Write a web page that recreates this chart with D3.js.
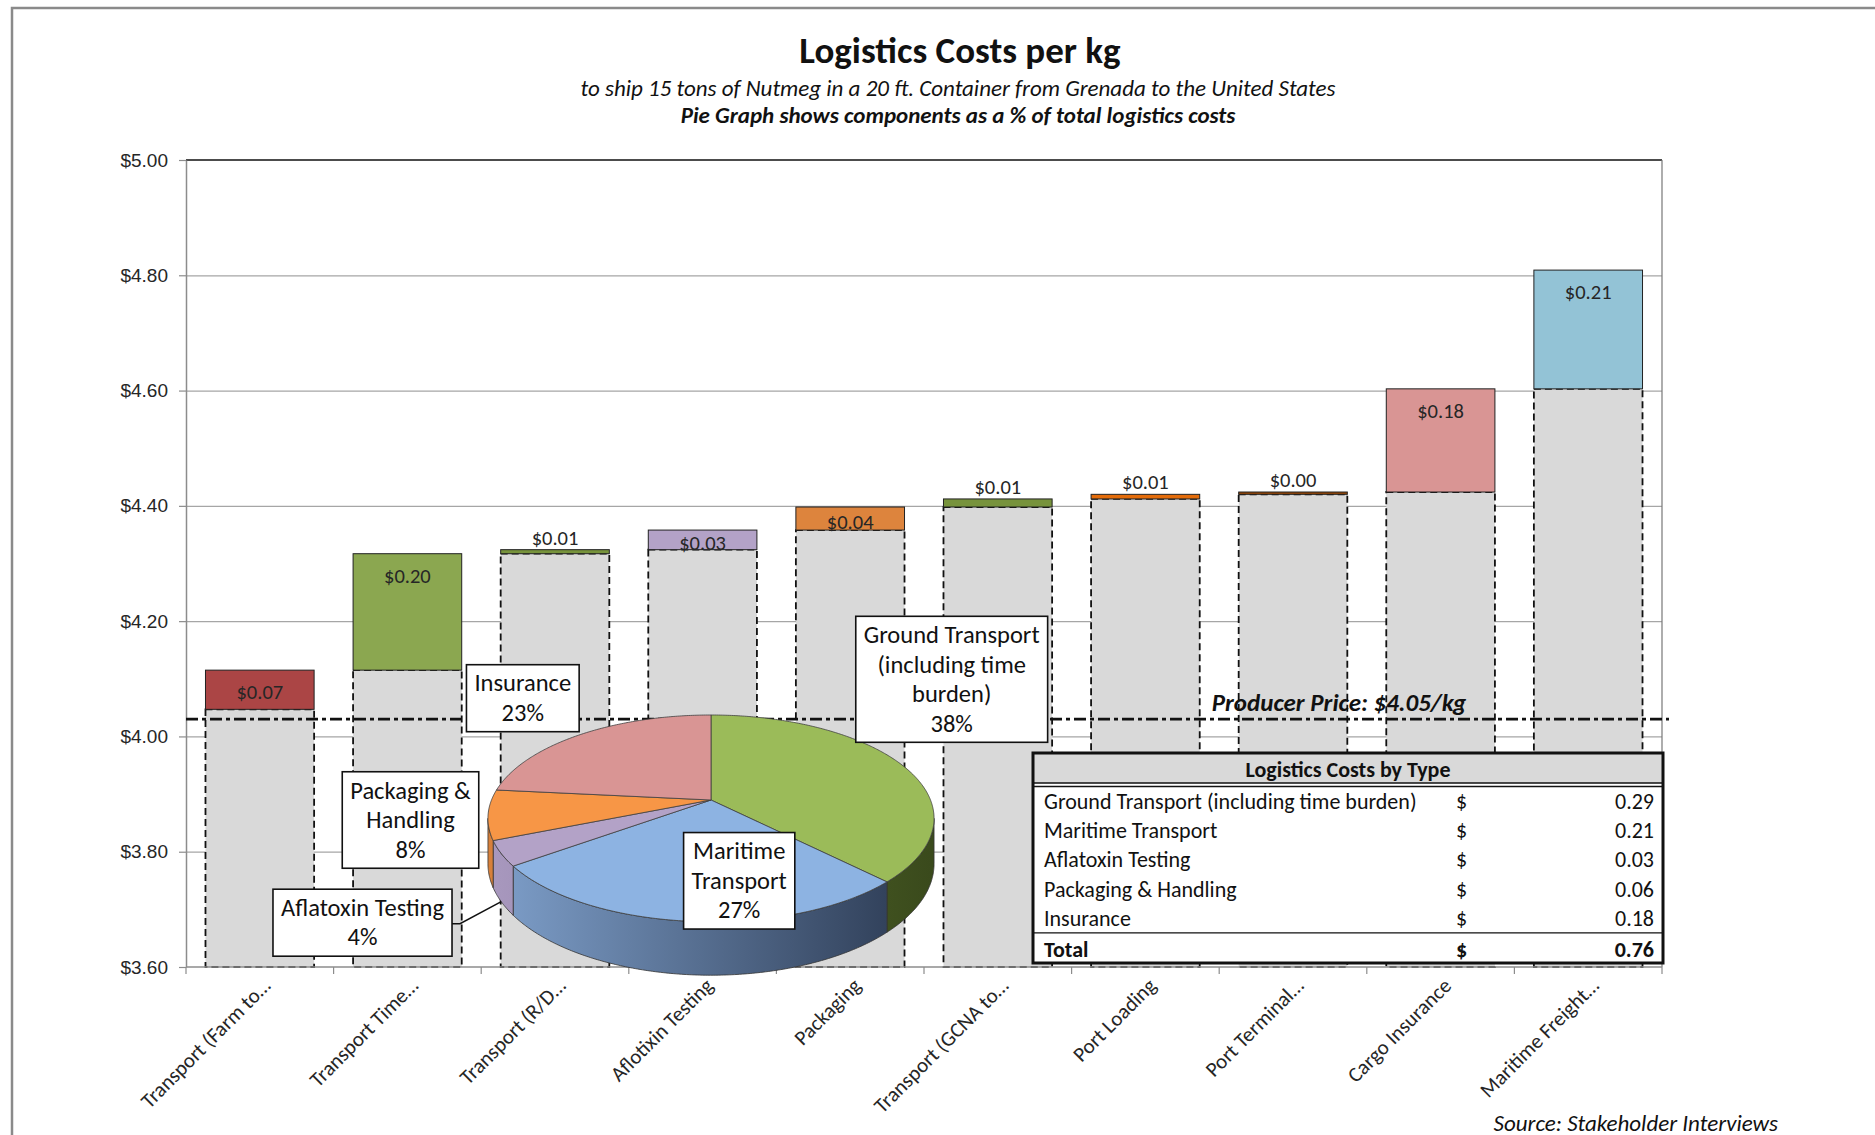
<!DOCTYPE html>
<html>
<head>
<meta charset="utf-8">
<script src="https://cdn.jsdelivr.net/npm/d3@7"></script>
<style>
  body { margin: 0; background: #fff; }
  svg { display: block; font-family: Carlito, Calibri, Lato, sans-serif; }
</style>
</head>
<body>
<div id="chart"></div>
<script>
// ---- waterfall data ----
const categories = ["Transport (Farm to…", "Transport Time…", "Transport (R/D…", "Aflotixin Testing", "Packaging",
  "Transport (GCNA to…", "Port Loading", "Port Terminal…", "Cargo Insurance", "Maritime Freight…"];
const startValue = 4.047;
const increments = [0.068, 0.202, 0.007, 0.034, 0.040, 0.014, 0.008, 0.004, 0.179, 0.206];
const stepColors = ["#AB4545", "#8BA750", "#77933C", "#B3A2C7", "#DD843D", "#77933C", "#E46C0A", "#984807", "#D99594", "#93C3D6"];
const yTicks = [3.6, 3.8, 4.0, 4.2, 4.4, 4.6, 4.8, 5.0];
const producerLine = 4.03;
const producerLabel = "Producer Price: $4.05/kg";

// ---- cost breakdown (pie + table) ----
const costTypes = ["Ground Transport (including time burden)", "Maritime Transport", "Aflatoxin Testing", "Packaging & Handling", "Insurance"];
const costValues = [0.29, 0.21, 0.03, 0.06, 0.18];
const costTotal = 0.76;
const pieNames = [["Ground Transport", "(including time", "burden)"], ["Maritime", "Transport"], ["Aflatoxin Testing"], ["Packaging &", "Handling"], ["Insurance"]];
const pieColors = ["#9BBB59", "#8DB3E2", "#B3A2C7", "#F79646", "#D99594"];
const pieSide = [["#6E8A38", "#3A4A1C"], ["#7E9FCA", "#2A3850"], ["#A898BE", "#6B5C80"], ["#D8803A", "#8A4A18"], ["#B07070", "#704040"]];

const title = "Logistics Costs per kg";
const subtitle1 = "to ship 15 tons of Nutmeg  in a 20 ft. Container  from Grenada to the United States";
const subtitle2 = "Pie Graph shows components as a % of total logistics costs";
const source = "Source: Stakeholder Interviews";

const W = 1875, H = 1135;
const plot = {left: 186, right: 1662, top: 160, bottom: 967};

const svg = d3.select("#chart").append("svg")
  .attr("width", W).attr("height", H);

// outer chart frame
svg.append("rect")
  .attr("x", 12).attr("y", 8).attr("width", W).attr("height", H)
  .attr("fill", "none").attr("stroke", "#8a8a8a").attr("stroke-width", 2.5);

const x = d3.scaleBand().domain(categories)
  .range([plot.left, plot.right]).paddingInner(0.264).paddingOuter(0.132);
const y = d3.scaleLinear().domain([3.6, 5.0]).range([plot.bottom, plot.top]);

// gridlines
svg.append("g")
  .attr("transform", `translate(${plot.left},0)`)
  .call(d3.axisLeft(y).tickValues(yTicks.slice(1, -1)).tickSize(-(plot.right - plot.left)).tickFormat(""))
  .call(g => g.select(".domain").remove())
  .call(g => g.selectAll("line").attr("stroke", "#a6a6a6").attr("stroke-width", 1.2));

// plot border (top black, right gray)
svg.append("line").attr("x1", plot.left).attr("x2", plot.right).attr("y1", plot.top).attr("y2", plot.top)
  .attr("stroke", "#111").attr("stroke-width", 1.5);
svg.append("line").attr("x1", plot.right).attr("x2", plot.right).attr("y1", plot.top).attr("y2", plot.bottom)
  .attr("stroke", "#777").attr("stroke-width", 1.2);

// waterfall values
const tops = Array.from(d3.cumsum(increments), c => startValue + c);
const bases = [startValue].concat(tops.slice(0, -1));
const bars = categories.map((c, i) => ({cat: c, base: bases[i], top: tops[i], inc: increments[i], color: stepColors[i]}));

// invisible base bars (gray with dashed outline)
svg.append("g").selectAll("rect").data(bars).join("rect")
  .attr("x", d => x(d.cat)).attr("width", x.bandwidth())
  .attr("y", d => y(d.base)).attr("height", d => y(3.6) - y(d.base))
  .attr("fill", "#d9d9d9").attr("stroke", "#111").attr("stroke-width", 1.8)
  .attr("stroke-dasharray", "7,4");

// increments
svg.append("g").selectAll("rect").data(bars).join("rect")
  .attr("x", d => x(d.cat)).attr("width", x.bandwidth())
  .attr("y", d => y(d.top)).attr("height", d => y(d.base) - y(d.top))
  .attr("fill", d => d.color).attr("stroke", "#222").attr("stroke-width", 1);

// value labels
const fmtMoney = d3.format("$.2f");
svg.append("g").selectAll("text").data(bars).join("text")
  .attr("x", d => x(d.cat) + x.bandwidth() / 2)
  .attr("y", d => {
    const h = y(d.base) - y(d.top);
    return d.inc < 0.02 ? y(d.top) - 12 : y(d.top) + Math.min(22, h / 2 + 3);
  })
  .attr("text-anchor", "middle").attr("dominant-baseline", "central")
  .attr("font-size", 20.5).attr("fill", "#262626")
  .text(d => fmtMoney(d.inc));

// left axis
svg.append("g")
  .attr("transform", `translate(${plot.left},0)`)
  .call(d3.axisLeft(y).tickValues(yTicks).tickFormat(fmtMoney).tickSize(7).tickSizeOuter(0).tickPadding(11))
  .call(g => g.select(".domain").attr("stroke", "#8c8c8c").attr("stroke-width", 1.5))
  .call(g => g.selectAll("line").attr("stroke", "#8c8c8c").attr("stroke-width", 1.2))
  .call(g => g.selectAll("text").attr("font-size", 19).attr("fill", "#262626").attr("font-family", null));

// bottom axis with ticks between categories
const step = x.step();
const gx = svg.append("g");
gx.append("line").attr("x1", plot.left).attr("x2", plot.right).attr("y1", plot.bottom).attr("y2", plot.bottom)
  .attr("stroke", "#8c8c8c").attr("stroke-width", 1.5);
gx.selectAll("line.tick").data(d3.range(categories.length + 1)).join("line")
  .attr("class", "tick")
  .attr("x1", i => plot.left + i * step).attr("x2", i => plot.left + i * step)
  .attr("y1", plot.bottom).attr("y2", plot.bottom + 7)
  .attr("stroke", "#8c8c8c").attr("stroke-width", 1.2);
gx.selectAll("text").data(categories).join("text")
  .attr("transform", d => `translate(${x(d) + x.bandwidth() / 2 + 12},${plot.bottom + 20}) rotate(-45)`)
  .attr("text-anchor", "end").attr("font-size", 21).attr("fill", "#262626")
  .text(d => d);

// producer price line
svg.append("line")
  .attr("x1", plot.left).attr("x2", plot.right + 7)
  .attr("y1", y(producerLine)).attr("y2", y(producerLine))
  .attr("stroke", "#111").attr("stroke-width", 2.6).attr("stroke-dasharray", "12,4,4,4");
svg.append("text")
  .attr("x", 1339).attr("y", y(producerLine) - 8)
  .attr("text-anchor", "middle").attr("font-size", 25).attr("font-weight", "bold").attr("font-style", "italic")
  .attr("fill", "#111")
  .text(producerLabel);

// ---- perspective 3D pie ----
const pc = {cx: 711, cy: 800, R: 219.5, a: 100.1, k: 0.1776, D: 44};
function proj(t, drop) {
  const X = Math.sin(t), Y = -Math.cos(t);
  const s = 1 / (1 - pc.k * Y);
  return [pc.cx + pc.R * X * s, pc.cy + pc.a * Y * s + (drop ? pc.D * s : 0)];
}
function arcPts(a0, a1, drop) {
  const n = Math.max(2, Math.ceil((a1 - a0) / 0.01));
  return d3.range(n + 1).map(i => proj(a0 + (a1 - a0) * i / n, drop));
}
const arcs = d3.pie().sort(null).startAngle(0).endAngle(2 * Math.PI)(costValues);
const tR = Math.acos(-pc.k), tL = 2 * Math.PI - tR;

const defs = svg.append("defs");
pieSide.forEach((c, i) => {
  const lg = defs.append("linearGradient").attr("id", "side" + i)
    .attr("gradientUnits", "userSpaceOnUse")
    .attr("x1", pc.cx - pc.R).attr("x2", pc.cx + pc.R).attr("y1", 0).attr("y2", 0);
  lg.append("stop").attr("offset", "0%").attr("stop-color", c[0]);
  lg.append("stop").attr("offset", "100%").attr("stop-color", c[1]);
});

const pieG = svg.append("g");
const line = d3.line();
arcs.forEach((d, i) => {
  const a0 = Math.max(d.startAngle, tR), a1 = Math.min(d.endAngle, tL);
  if (a1 <= a0) return;
  const topPts = arcPts(a0, a1, false);
  const botPts = arcPts(a0, a1, true).reverse();
  pieG.append("path")
    .attr("d", line(topPts.concat(botPts)) + "Z")
    .attr("fill", `url(#side${i})`).attr("stroke", "#333").attr("stroke-width", 0.8);
});
arcs.forEach((d, i) => {
  const pts = [[pc.cx, pc.cy]].concat(arcPts(d.startAngle, d.endAngle, false));
  pieG.append("path")
    .attr("d", line(pts) + "Z")
    .attr("fill", pieColors[i]).attr("stroke", "#404040").attr("stroke-width", 0.8);
});

// ---- table ----
const tb = {x0: 1033, x1: 1663, y0: 753, head: 30, row: 29.4};
const rows = costTypes.map((t, i) => ({label: t, value: costValues[i], bold: false}))
  .concat([{label: "Total", value: costTotal, bold: true}]);
const rowY = i => tb.y0 + tb.head + 18 + i * tb.row + (i === rows.length - 1 ? 1 : 0);
const tbBottom = rowY(rows.length - 1) + 14;
const tg = svg.append("g");
tg.append("rect").attr("x", tb.x0).attr("y", tb.y0).attr("width", tb.x1 - tb.x0).attr("height", tbBottom - tb.y0)
  .attr("fill", "#fff");
tg.append("rect").attr("x", tb.x0).attr("y", tb.y0).attr("width", tb.x1 - tb.x0).attr("height", tb.head)
  .attr("fill", "#d9d9d9");
tg.append("text").attr("x", (tb.x0 + tb.x1) / 2).attr("y", tb.y0 + tb.head / 2 + 1)
  .attr("text-anchor", "middle").attr("dominant-baseline", "central")
  .attr("font-size", 22).attr("font-weight", "bold").attr("fill", "#111")
  .text("Logistics Costs by Type");
[tb.y0 + tb.head, tb.y0 + tb.head + 3.5].forEach(yy => tg.append("line")
  .attr("x1", tb.x0).attr("x2", tb.x1).attr("y1", yy).attr("y2", yy).attr("stroke", "#111").attr("stroke-width", 1.3));
const fmt2 = d3.format(".2f");
rows.forEach((r, i) => {
  const yy = rowY(i);
  const fw = r.bold ? "bold" : "normal";
  tg.append("text").attr("x", tb.x0 + 11).attr("y", yy).attr("dominant-baseline", "central")
    .attr("font-size", 22).attr("font-weight", fw).attr("fill", "#111").text(r.label);
  tg.append("text").attr("x", 1456).attr("y", yy).attr("dominant-baseline", "central")
    .attr("font-size", 22).attr("font-weight", fw).attr("fill", "#111").text("$");
  tg.append("text").attr("x", tb.x1 - 9).attr("y", yy).attr("text-anchor", "end").attr("dominant-baseline", "central")
    .attr("font-size", 22).attr("font-weight", fw).attr("fill", "#111").text(fmt2(r.value));
});
const sepY = (rowY(rows.length - 2) + rowY(rows.length - 1)) / 2 - 1;
tg.append("line").attr("x1", tb.x0).attr("x2", tb.x1).attr("y1", sepY).attr("y2", sepY)
  .attr("stroke", "#111").attr("stroke-width", 1.3);
tg.append("rect").attr("x", tb.x0).attr("y", tb.y0).attr("width", tb.x1 - tb.x0).attr("height", tbBottom - tb.y0)
  .attr("fill", "none").attr("stroke", "#111").attr("stroke-width", 3);

// ---- pie callouts ----
const fmtPct = d3.format(".0%");
const pieTotal = d3.sum(costValues);
const calloutCenters = [[951.7, 679.3], [739.2, 880.8], [362.5, 922.7], [410.5, 820], [522.8, 698.2]];
const lineH = 29.5, padX = 8, padY = 4;
const boxes = [];
pieNames.forEach((names, i) => {
  const lines = names.concat([fmtPct(costValues[i] / pieTotal)]);
  const [cx, cy] = calloutCenters[i];
  const g = svg.append("g");
  const rect = g.append("rect").attr("fill", "#fff").attr("stroke", "#111").attr("stroke-width", 1.6);
  const t0 = cy - (lines.length - 1) * lineH / 2;
  const texts = lines.map((s, j) => g.append("text")
    .attr("x", cx).attr("y", t0 + j * lineH)
    .attr("text-anchor", "middle").attr("dominant-baseline", "central")
    .attr("font-size", 24.5).attr("fill", "#111").text(s));
  const w = d3.max(texts, t => t.node().getComputedTextLength()) + 2 * padX;
  const h = lines.length * lineH + 2 * padY;
  rect.attr("x", cx - w / 2).attr("y", cy - h / 2).attr("width", w).attr("height", h);
  boxes.push({x0: cx - w / 2, x1: cx + w / 2, y0: cy - h / 2, y1: cy + h / 2, cy: cy, g: g});
});
// leader for the aflatoxin slice
{
  const d = arcs[2], b = boxes[2];
  const end = proj((d.startAngle + d.endAngle) / 2, true);
  const ly = b.cy + 1;
  svg.insert("path", () => b.g.node())
    .attr("d", line([[b.x1, ly], [b.x1 + 8, ly], end]))
    .attr("fill", "none").attr("stroke", "#111").attr("stroke-width", 1.5);
}

// ---- titles ----
svg.append("text").attr("x", 960).attr("y", 63).attr("text-anchor", "middle")
  .attr("font-size", 37).attr("font-weight", "bold").attr("fill", "#111").text(title);
svg.append("text").attr("x", 958).attr("y", 96).attr("text-anchor", "middle")
  .attr("font-size", 23).attr("font-style", "italic").attr("fill", "#111").text(subtitle1);
svg.append("text").attr("x", 958).attr("y", 123).attr("text-anchor", "middle")
  .attr("font-size", 23).attr("font-style", "italic").attr("font-weight", "bold").attr("fill", "#111").text(subtitle2);
svg.append("text").attr("x", 1778).attr("y", 1131).attr("text-anchor", "end")
  .attr("font-size", 23).attr("font-style", "italic").attr("fill", "#111").text(source);
</script>
</body>
</html>
